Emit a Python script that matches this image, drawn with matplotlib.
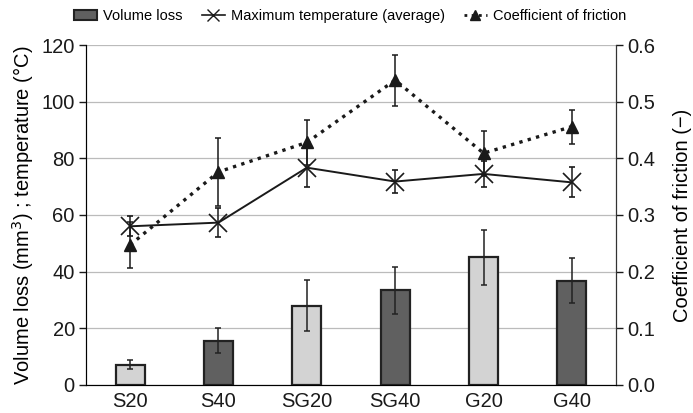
import numpy as np
import matplotlib.pyplot as plt
from matplotlib.patches import Patch
from matplotlib.lines import Line2D

plt.rcParams['font.family'] = ['Liberation Sans', 'DejaVu Sans']

# Data
samples = ['S20', 'S40', 'SG20', 'SG40', 'G20', 'G40']
volume_loss = [7.2, 15.6, 27.9, 33.4, 45.0, 36.8]
volume_err = [1.5, 4.4, 9.0, 8.2, 9.8, 7.9]
max_temp = [56.0, 57.3, 76.7, 71.8, 74.5, 71.5]
temp_err = [3.5, 5.0, 7.0, 4.0, 4.5, 5.3]
friction = [0.247, 0.376, 0.428, 0.538, 0.409, 0.456]
friction_err = [0.04, 0.06, 0.04, 0.045, 0.04, 0.03]
bar_colors = ['#d3d3d3', '#606060', '#d3d3d3', '#606060', '#d3d3d3', '#606060']

x = np.arange(len(samples))

fig = plt.figure(figsize=(6.93, 4.13), dpi=100)
ax = fig.add_axes([0.124, 0.068, 0.765, 0.823])
ax2 = ax.twinx()

# gridlines
ax.set_axisbelow(True)
ax.yaxis.grid(True, color='#bbbbbb', linewidth=0.9)

# bars
ax.bar(x, volume_loss, width=0.33, color=bar_colors, edgecolor='#222222',
       linewidth=1.6, zorder=2)
ax.errorbar(x, volume_loss, yerr=volume_err, fmt='none', ecolor='#222222',
            elinewidth=1.1, capsize=2.5, capthick=1.1, zorder=3)

# temperature
ax.errorbar(x, max_temp, yerr=temp_err, color='#1a1a1a', marker='x',
            markersize=13, markeredgewidth=1.2, linewidth=1.4,
            elinewidth=1.1, capsize=2.5, capthick=1.1, zorder=4)

# friction on right axis
ax2.errorbar(x, friction, yerr=friction_err, color='#1a1a1a', marker='^',
             markersize=9, linestyle=(0, (1, 1.6)), linewidth=2.4,
             elinewidth=1.1, capsize=2.5, capthick=1.1, zorder=4)

ax.set_xlim(-0.5, 5.5)
ax.set_ylim(0, 120)
ax2.set_ylim(0, 0.6)
ax.set_yticks([0, 20, 40, 60, 80, 100, 120])
ax2.set_yticks([0.0, 0.1, 0.2, 0.3, 0.4, 0.5, 0.6])
ax2.set_yticklabels(['0.0', '0.1', '0.2', '0.3', '0.4', '0.5', '0.6'])
ax.set_xticks(x)
ax.set_xticklabels(samples)

for a in (ax, ax2):
    a.spines['top'].set_visible(False)
    a.tick_params(labelsize=14.5, colors='#1a1a1a', length=5, width=1, pad=3)
ax.spines['left'].set_color('#333333')
ax.spines['bottom'].set_color('#333333')
ax2.spines['right'].set_color('#333333')
ax.tick_params(axis='x', length=0, pad=5)

ax.set_ylabel('Volume loss (mm$^3$) ; temperature (°C)', fontsize=14.5, labelpad=4)
ax2.set_ylabel('Coefficient of friction (\u2212)', fontsize=14.5, labelpad=13)

# legend
handles = [
    Patch(facecolor='#606060', edgecolor='#222222', linewidth=1.5),
    Line2D([0], [0], color='#1a1a1a', marker='x', markersize=8, linewidth=1.2),
    Line2D([0], [0], color='#1a1a1a', marker='^', markersize=7,
           linestyle=(0, (1, 1.6)), linewidth=2),
]
labels = ['Volume loss', 'Maximum temperature (average)', 'Coefficient of friction']
fig.legend(handles, labels, loc='upper center', bbox_to_anchor=(0.505, 1.01),
           ncol=3, frameon=False, fontsize=10.5, handlelength=1.6,
           columnspacing=1.3, handletextpad=0.4)

plt.savefig('out.png', dpi=100)
